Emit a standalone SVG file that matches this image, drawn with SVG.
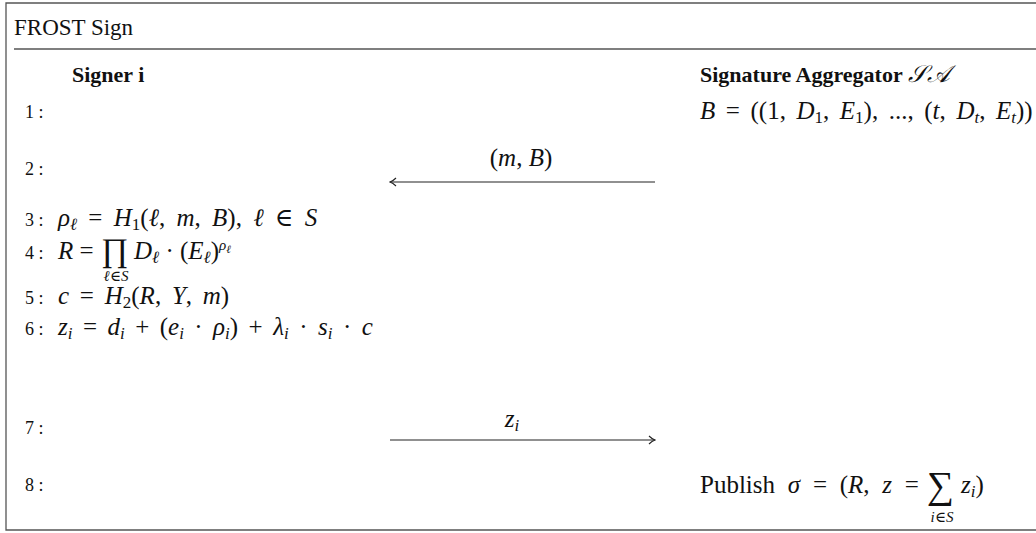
<svg xmlns="http://www.w3.org/2000/svg" width="1036" height="533" viewBox="0 0 1036 533">
<style>
text{font-family:"Liberation Serif","DejaVu Serif",serif;fill:#111}
.t{font-size:23px}
.h{font-size:22px;font-weight:bold}
.n{font-size:18px}
.m{font-size:25px}
.i{font-style:italic}
.s{font-size:17px}
.u{font-size:15px}
.frame{fill:none;stroke:#555;stroke-width:1.3}
.conn line{stroke:#222;stroke-width:1.2}
</style>
<defs>
<marker id="ah" viewBox="0 0 8 10" refX="7" refY="5" markerWidth="8" markerHeight="10" markerUnits="userSpaceOnUse" orient="auto">
<path d="M1,1 Q4,4 7,5 Q4,6 1,9" fill="none" stroke="#222" stroke-width="1.1"/>
</marker>
</defs>
<g id="frame">
<path class="frame" d="M1036,3 H6 V530 H1036"/>
<line x1="14" y1="49" x2="1036" y2="49" stroke="#555" stroke-width="1.3"/>
<text class="t" x="14" y="35">FROST Sign</text>
</g>
<g id="line-numbers">
<text class="n" x="25" y="118">1 :</text>
<text class="n" x="25" y="175">2 :</text>
<text class="n" x="25" y="226">3 :</text>
<text class="n" x="25" y="259">4 :</text>
<text class="n" x="25" y="304">5 :</text>
<text class="n" x="25" y="335">6 :</text>
<text class="n" x="25" y="434">7 :</text>
<text class="n" x="25" y="491">8 :</text>
</g>
<g id="signer">
<text class="h" x="72" y="82">Signer i</text>
<text class="m" x="58" y="226" style="word-spacing:5px"><tspan class="i">ρ</tspan><tspan class="i s" dy="4">ℓ</tspan><tspan dy="-4"> = </tspan><tspan class="i">H</tspan><tspan class="s" dy="4">1</tspan><tspan dy="-4">(</tspan><tspan class="i">ℓ</tspan>, <tspan class="i">m</tspan>, <tspan class="i">B</tspan>), <tspan class="i">ℓ</tspan> ∈ <tspan class="i">S</tspan></text>
<text class="m" x="58" y="259"><tspan class="i">R</tspan> =</text>
<text x="101" y="261" style="font-size:33px">∏</text>
<text class="u" x="116" y="281" text-anchor="middle"><tspan class="i">ℓ</tspan>∈<tspan class="i">S</tspan></text>
<text class="m" x="134" y="259"><tspan class="i">D</tspan><tspan class="i s" dy="4">ℓ</tspan><tspan dy="-4"> · (</tspan><tspan class="i">E</tspan><tspan class="i s" dy="4">ℓ</tspan><tspan dy="-4">)</tspan><tspan class="i u" dy="-9">ρ</tspan><tspan class="i" style="font-size:11px" dy="3">ℓ</tspan></text>
<text class="m" x="58" y="304" style="word-spacing:4.5px"><tspan class="i">c</tspan> = <tspan class="i">H</tspan><tspan class="s" dy="4">2</tspan><tspan dy="-4">(</tspan><tspan class="i">R</tspan>, <tspan class="i">Y</tspan>, <tspan class="i">m</tspan>)</text>
<text class="m" x="58" y="335" style="word-spacing:4.2px"><tspan class="i">z</tspan><tspan class="i s" dy="4">i</tspan><tspan dy="-4"> = </tspan><tspan class="i">d</tspan><tspan class="i s" dy="4">i</tspan><tspan dy="-4"> + (</tspan><tspan class="i">e</tspan><tspan class="i s" dy="4">i</tspan><tspan dy="-4"> · </tspan><tspan class="i">ρ</tspan><tspan class="i s" dy="4">i</tspan><tspan dy="-4">) + </tspan><tspan class="i">λ</tspan><tspan class="i s" dy="4">i</tspan><tspan dy="-4"> · </tspan><tspan class="i">s</tspan><tspan class="i s" dy="4">i</tspan><tspan dy="-4"> · </tspan><tspan class="i">c</tspan></text>
</g>
<g id="aggregator">
<text class="h" x="700" y="82">Signature Aggregator <tspan class="i" style="font-weight:normal;font-size:24px">𝒮𝒜</tspan></text>
<text class="m" x="700" y="119" style="word-spacing:4.3px"><tspan class="i">B</tspan> = ((1, <tspan class="i">D</tspan><tspan class="s" dy="4">1</tspan><tspan dy="-4">, </tspan><tspan class="i">E</tspan><tspan class="s" dy="4">1</tspan><tspan dy="-4">), ..., (</tspan><tspan class="i">t</tspan>, <tspan class="i">D</tspan><tspan class="i s" dy="4">t</tspan><tspan dy="-4">, </tspan><tspan class="i">E</tspan><tspan class="i s" dy="4">t</tspan><tspan dy="-4">))</tspan></text>
<text class="m" x="700" y="493" style="word-spacing:6.5px">Publish <tspan class="i">σ</tspan> = (<tspan class="i">R</tspan>, <tspan class="i">z</tspan> =</text>
<text x="927" y="498" style="font-size:38px">∑</text>
<text class="u" x="942" y="522" text-anchor="middle"><tspan class="i">i</tspan>∈<tspan class="i">S</tspan></text>
<text class="m" x="961" y="493"><tspan class="i">z</tspan><tspan class="i s" dy="4">i</tspan><tspan dy="-4">)</tspan></text>
</g>
<g id="connectors" class="conn">
<line x1="655" y1="182" x2="390" y2="182" marker-end="url(#ah)"/>
<text class="m" x="521" y="166" text-anchor="middle">(<tspan class="i">m</tspan>, <tspan class="i">B</tspan>)</text>
<line x1="390" y1="440" x2="655" y2="440" marker-end="url(#ah)"/>
<text class="m" x="512" y="427" text-anchor="middle"><tspan class="i">z</tspan><tspan class="i s" dy="4">i</tspan></text>
</g>
</svg>
